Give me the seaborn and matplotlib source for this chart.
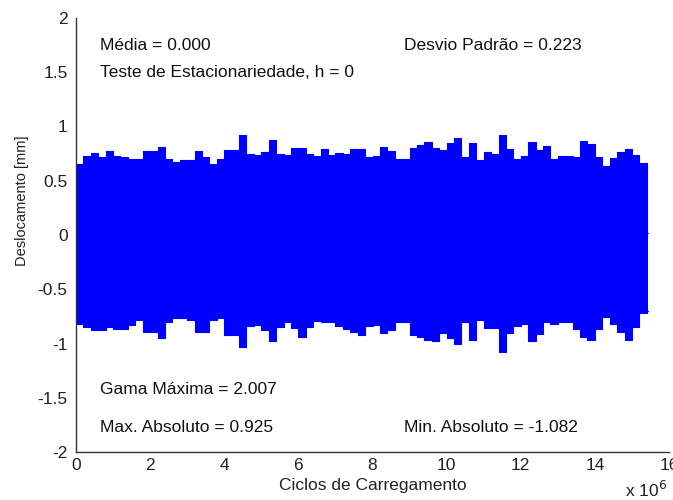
import numpy as np
import pandas as pd
import matplotlib
matplotlib.use("Agg")
import matplotlib.pyplot as plt
import seaborn as sns

# ---- data (cycles in units of 1e6, envelope of displacement per load block) ----
inicio_bloco = [0.0, 0.2, 0.4, 0.6, 0.8, 1.0, 1.2, 1.4, 1.6, 1.8,
                2.0, 2.2, 2.4, 2.6, 2.8, 3.0, 3.2, 3.4, 3.6, 3.8,
                4.0, 4.2, 4.4, 4.6, 4.8, 5.0, 5.2, 5.4, 5.6, 5.8,
                6.0, 6.2, 6.4, 6.6, 6.8, 7.0, 7.2, 7.4, 7.6, 7.8,
                8.0, 8.2, 8.4, 8.6, 8.8, 9.0, 9.2, 9.4, 9.6, 9.8,
                10.0, 10.2, 10.4, 10.6, 10.8, 11.0, 11.2, 11.4, 11.6, 11.8,
                12.0, 12.2, 12.4, 12.6, 12.8, 13.0, 13.2, 13.4, 13.6, 13.8,
                14.0, 14.2, 14.4, 14.6, 14.8, 15.0, 15.2, 15.4]
fim_sinal = 15.43

desloc_max = [0.65, 0.73, 0.755, 0.72, 0.777, 0.73, 0.716, 0.70, 0.70, 0.777,
              0.77, 0.808, 0.70, 0.67, 0.69, 0.694, 0.775, 0.72, 0.65, 0.70,
              0.786, 0.78, 0.925, 0.75, 0.734, 0.764, 0.88, 0.75, 0.74, 0.80,
              0.80, 0.75, 0.725, 0.796, 0.74, 0.76, 0.75, 0.796, 0.796, 0.72,
              0.73, 0.808, 0.777, 0.70, 0.70, 0.80, 0.826, 0.86, 0.80, 0.786,
              0.85, 0.89, 0.716, 0.85, 0.69, 0.764, 0.75, 0.92, 0.79, 0.70,
              0.725, 0.857, 0.786, 0.817, 0.70, 0.725, 0.725, 0.72, 0.87, 0.84,
              0.72, 0.64, 0.71, 0.764, 0.796, 0.734, 0.66, 0.02]

desloc_min = [-0.82, -0.845, -0.88, -0.88, -0.845, -0.87, -0.87, -0.83, -0.78, -0.894,
              -0.89, -0.95, -0.80, -0.765, -0.765, -0.78, -0.89, -0.89, -0.78, -0.765,
              -0.92, -0.92, -1.03, -0.835, -0.83, -0.88, -0.977, -0.85, -0.80, -0.86,
              -0.94, -0.85, -0.79, -0.80, -0.80, -0.84, -0.87, -0.89, -0.92, -0.84,
              -0.83, -0.90, -0.88, -0.80, -0.80, -0.92, -0.94, -0.97, -0.98, -0.90,
              -0.95, -1.00, -0.80, -0.97, -0.78, -0.86, -0.86, -1.082, -0.90, -0.84,
              -0.82, -0.98, -0.91, -0.80, -0.82, -0.80, -0.80, -0.87, -0.94, -0.97,
              -0.87, -0.76, -0.82, -0.89, -0.97, -0.85, -0.72, -0.70]

xticks = [0, 2, 4, 6, 8, 10, 12, 14, 16]
yticks = [-2, -1.5, -1, -0.5, 0, 0.5, 1, 1.5, 2]
ytick_labels = ["-2", "-1.5", "-1", "-0.5", "0", "0.5", "1", "1.5", "2"]

anotacoes = [
    (0.65, 1.75, "Média = 0.000"),
    (8.85, 1.75, "Desvio Padrão = 0.223"),
    (0.65, 1.50, "Teste de Estacionariedade, h = 0"),
    (0.65, -1.42, "Gama Máxima = 2.007"),
    (0.65, -1.77, "Max. Absoluto = 0.925"),
    (8.85, -1.77, "Min. Absoluto = -1.082"),
]

# ---- build step series ----
x_steps = [v * 1e6 for v in inicio_bloco] + [fim_sinal * 1e6]
ymax_steps = desloc_max + [desloc_max[-1]]
ymin_steps = desloc_min + [desloc_min[-1]]
df = pd.DataFrame({"ciclos": x_steps, "sup": ymax_steps, "inf": ymin_steps})

sns.set_style("white")
plt.rcParams["font.family"] = ["Liberation Sans", "DejaVu Sans"]

fig = plt.figure(figsize=(6.73, 5.0), dpi=100)
ax = fig.add_axes([76 / 673, 48 / 500, 593 / 673, 434 / 500])

blue = "#0000FF"
ax.fill_between(df["ciclos"], df["inf"], df["sup"], step="post", color=blue, lw=0)
sns.lineplot(data=df, x="ciclos", y="sup", ax=ax, color=blue, lw=0.8, drawstyle="steps-post")
sns.lineplot(data=df, x="ciclos", y="inf", ax=ax, color=blue, lw=0.8, drawstyle="steps-post")

ax.set_xlim(0, 16e6)
ax.set_ylim(-2, 2)
ax.set_xticks([t * 1e6 for t in xticks])
ax.set_xticklabels([str(t) for t in xticks])
ax.set_yticks(yticks)
ax.set_yticklabels(ytick_labels)

fs = 12.5
axcol = "#333333"
for side in ["top", "right"]:
    ax.spines[side].set_visible(False)
for side in ["left", "bottom"]:
    ax.spines[side].set_color(axcol)
    ax.spines[side].set_linewidth(1.0)
ax.tick_params(axis="both", direction="in", length=4, width=1, color=axcol,
               labelsize=fs, labelcolor="#222222")
ax.tick_params(axis="y", pad=6)
ax.tick_params(axis="x", pad=4)

ax.set_xlabel("Ciclos de Carregamento", fontsize=fs, color="#222222", labelpad=4)
ax.set_ylabel("Deslocamento [mm]", fontsize=10.5, color="#222222")
ax.yaxis.set_label_coords(-0.079, 0.58)

for x, y, s in anotacoes:
    ax.text(x * 1e6, y, s, fontsize=fs, color="#111111", va="center", ha="left")

ax.text(0.926, -0.088, r"x 10$^{6}$", transform=ax.transAxes, fontsize=fs,
        color="#222222", va="center", ha="left")

ax.grid(False)
fig.savefig("out.png", dpi=100)
